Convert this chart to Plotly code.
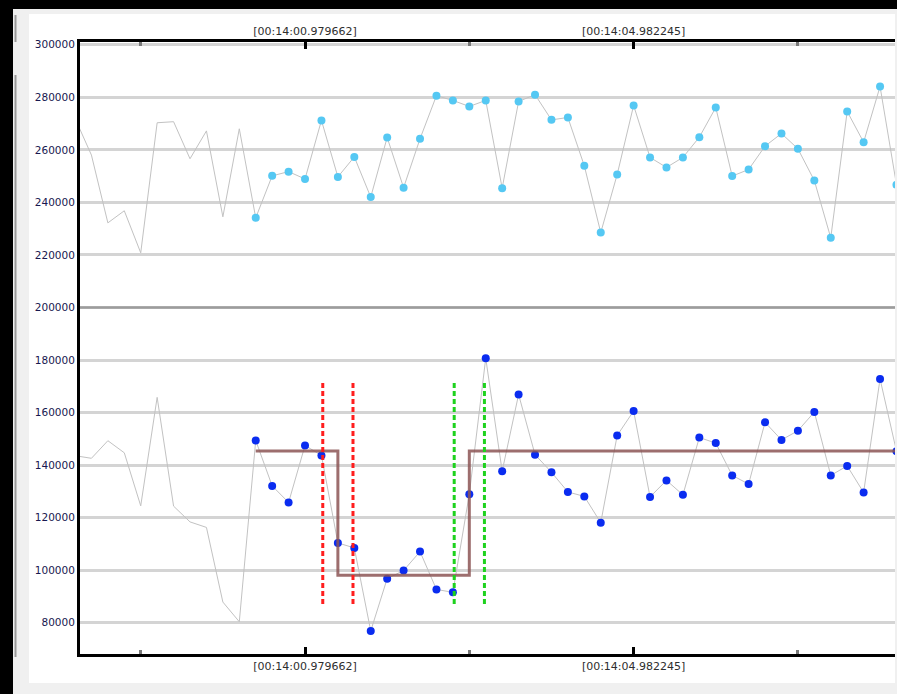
import plotly.graph_objects as go

# --- sampling (seconds after 00:14:00) ---
FIRST_SAMPLE_T = -1.8221461
SAMPLE_DT = 0.20012915
FIRST_MARKED = 11  # samples from here on carry markers

# upper channel readings
UPPER = [272000, 258000, 232200, 236800, 220800, 270300, 270700, 256600, 267200, 234500,
         268000, 234100, 250100, 251700, 248900, 271200, 249700, 257300, 242000, 264700,
         245600, 264200, 280600, 278800, 276500, 278800, 245400, 278400, 281000, 271400,
         272300, 253900, 228500, 250600, 276900, 257100, 253300, 257100, 264800, 276100,
         250000, 252500, 261400, 266200, 260400, 248300, 226500, 274600, 262900, 284100,
         246700]

# lower channel readings
LOWER = [143600, 142600, 149300, 144700, 124500, 165800, 124400, 118400, 116300, 87900,
         80400, 149400, 132100, 125800, 147500, 143700, 110400, 108500, 76900, 96800,
         99900, 107100, 92700, 91600, 128950, 180700, 137700, 166900, 144000, 137300,
         129800, 128100, 118100, 151300, 160600, 127900, 134200, 128700, 150500, 148400,
         136100, 132800, 156300, 149600, 153100, 160200, 136100, 139700, 129600, 172800,
         145300]

# fitted level segments of the lower channel: (start sample, level)
LEVEL_STEPS_IDX = [11, 16, 24, 50]
LEVEL_STEPS_VAL = [145400, 98100, 145400, 145400]

# change-point bracket positions (sample index) and vertical extent
DROP_BRACKET_IDX = [15.08, 16.92]
RISE_BRACKET_IDX = [23.08, 24.92]
BRACKET_SPAN = [87150, 171750]

# boundary between the two channels
CHANNEL_SPLIT = 200000

# time axis ticks
MAJOR_TICK_T = [0.979662, 4.982245]
MAJOR_TICK_TEXT = ["[00:14:00.979662]", "[00:14:04.982245]"]
MINOR_TICK_T = [-1.021629, 2.980954, 6.983536]

Y_TICKS = list(range(80000, 300001, 20000))

def t_of(k):
    return FIRST_SAMPLE_T + k * SAMPLE_DT

T = [t_of(k) for k in range(len(UPPER))]

W, H = 897, 694
ML, MR, MT, MB = 80, 2, 42, 40
PW, PH = W - ML - MR, H - MT - MB

def px(x):
    return (x - ML) / PW

def py(y):
    return (H - MB - y) / PH

fig = go.Figure()

line_grey = "#c2c2c2"
fig.add_trace(go.Scatter(x=T, y=UPPER, mode="lines", line=dict(color=line_grey, width=1),
                         hoverinfo="skip", showlegend=False))
fig.add_trace(go.Scatter(x=T, y=LOWER, mode="lines", line=dict(color=line_grey, width=1),
                         hoverinfo="skip", showlegend=False))

fig.add_trace(go.Scatter(x=T[FIRST_MARKED:], y=UPPER[FIRST_MARKED:], mode="markers",
                         marker=dict(color="#55c8f3", size=8), showlegend=False))
fig.add_trace(go.Scatter(x=T[FIRST_MARKED:], y=LOWER[FIRST_MARKED:], mode="markers",
                         marker=dict(color="#0a2cf0", size=8), showlegend=False))

fig.add_trace(go.Scatter(x=[t_of(k) for k in LEVEL_STEPS_IDX], y=LEVEL_STEPS_VAL,
                         mode="lines", line=dict(color="rgba(140,85,85,0.85)", width=3, shape="hv"),
                         showlegend=False))

def bracket(idx_list, color):
    xs, ys = [], []
    for k in idx_list:
        xs += [t_of(k), t_of(k), None]
        ys += [BRACKET_SPAN[0], BRACKET_SPAN[1], None]
    fig.add_trace(go.Scatter(x=xs, y=ys, mode="lines",
                             line=dict(color=color, width=3, dash="5px,3px"),
                             showlegend=False, hoverinfo="skip"))

bracket(DROP_BRACKET_IDX, "#ff1e1e")
bracket(RISE_BRACKET_IDX, "#1ed21e")

# carrier for the top time axis
fig.add_trace(go.Scatter(x=[T[0]], y=[UPPER[0]], xaxis="x2", mode="markers",
                         marker=dict(opacity=0), showlegend=False, hoverinfo="skip"))

x_range = [t_of(0.304), t_of(49.91)]
tick_font = dict(family="DejaVu Sans", size=11, color="#2e2e2e")
xcommon = dict(
    range=x_range, tickmode="array", tickvals=MAJOR_TICK_T, ticktext=MAJOR_TICK_TEXT,
    ticks="inside", ticklen=7, tickwidth=3, tickcolor="black",
    showline=True, linecolor="black", linewidth=3,
    showgrid=False, zeroline=False, tickfont=tick_font,
    minor=dict(tickmode="array", tickvals=MINOR_TICK_T, ticks="inside", ticklen=4,
               tickwidth=3, tickcolor="#7a7a7a", showgrid=False),
)

fig.update_layout(
    width=W, height=H,
    margin=dict(l=ML, r=MR, t=MT, b=MB, pad=0),
    paper_bgcolor="#f0f0f0", plot_bgcolor="white",
    xaxis=dict(**xcommon, side="bottom"),
    xaxis2=dict(**xcommon, side="top", overlaying="x", matches="x"),
    yaxis=dict(range=[68130, 301030], tickmode="array", tickvals=Y_TICKS,
               ticktext=[str(v) for v in Y_TICKS], ticks="",
               showgrid=True, gridcolor="#d4d4d4", gridwidth=2.5,
               showline=True, linecolor="black", linewidth=3, zeroline=False,
               tickfont=dict(family="DejaVu Sans", size=10.5, color="#181850")),
    showlegend=False,
    shapes=[
        # window frame
        dict(type="rect", xref="paper", yref="paper", x0=px(29), x1=px(895), y0=py(683), y1=py(14),
             fillcolor="white", line=dict(width=0), layer="below"),
        dict(type="rect", xref="paper", yref="paper", x0=px(0), x1=px(897), y0=py(9), y1=py(0),
             fillcolor="black", line=dict(width=0), layer="below"),
        dict(type="rect", xref="paper", yref="paper", x0=px(0), x1=px(13), y0=py(694), y1=py(0),
             fillcolor="black", line=dict(width=0), layer="below"),
        dict(type="line", xref="paper", yref="paper", x0=px(15.5), x1=px(15.5), y0=py(42), y1=py(15),
             line=dict(color="#9a9a9a", width=2), layer="below"),
        dict(type="line", xref="paper", yref="paper", x0=px(15.5), x1=px(15.5), y0=py(657), y1=py(75),
             line=dict(color="#9a9a9a", width=2), layer="below"),
        # separator between the two channels
        dict(type="line", xref="paper", yref="y", x0=0, x1=1, y0=CHANNEL_SPLIT, y1=CHANNEL_SPLIT,
             line=dict(color="#9c9c9c", width=2.5), layer="above"),
    ],
)

fig.write_html("out.html")
